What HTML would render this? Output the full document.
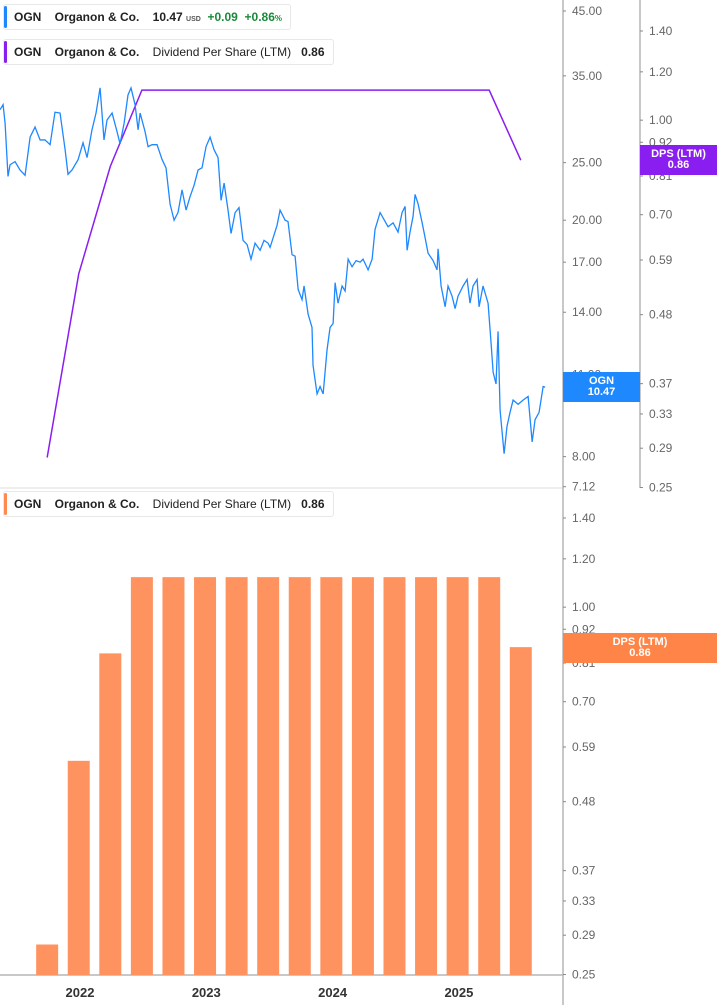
<!DOCTYPE html>
<html><head><meta charset="utf-8">
<style>
body{margin:0;background:#fff;font-family:"Liberation Sans",sans-serif;}
svg{display:block}
.lg{position:absolute;background:#fff;border:1px solid #e8e8e8;border-radius:3px;font-size:12px;font-weight:bold;color:#222;height:24px;line-height:24px;padding:0 8px 0 10px;white-space:nowrap}
.lg i{position:absolute;left:0;top:1px;bottom:1px;width:3px;border-radius:2px}
</style></head><body>
<div style="position:relative;width:717px;height:1005px">
<svg id="c" width="717" height="1005"></svg>
<div class="lg" style="left:3px;top:4px"><i style="background:#1e88ff"></i>OGN&nbsp;&nbsp;&nbsp; Organon &amp; Co.&nbsp;&nbsp;&nbsp; 10.47 <span style="font-size:7px;color:#555">USD</span>&nbsp; <span style="color:#1a8a3a">+0.09&nbsp; +0.86<span style="font-size:8px">%</span></span></div>
<div class="lg" style="left:3px;top:39px"><i style="background:#8a1ef0"></i>OGN&nbsp;&nbsp;&nbsp; Organon &amp; Co.&nbsp;&nbsp;&nbsp; <span style="font-weight:normal">Dividend Per Share (LTM)</span>&nbsp;&nbsp; 0.86</div>
<div class="lg" style="left:3px;top:491px"><i style="background:#ff8a50"></i>OGN&nbsp;&nbsp;&nbsp; Organon &amp; Co.&nbsp;&nbsp;&nbsp; <span style="font-weight:normal">Dividend Per Share (LTM)</span>&nbsp;&nbsp; 0.86</div>
</div>
<script>
const priceDates=[2021.367,2021.391,2021.407,2021.430,2021.446,2021.486,2021.525,2021.565,2021.605,2021.644,2021.684,2021.723,2021.763,2021.802,2021.842,2021.882,2021.905,2021.937,2021.985,2022.024,2022.056,2022.095,2022.127,2022.159,2022.190,2022.214,2022.254,2022.293,2022.317,2022.349,2022.380,2022.404,2022.436,2022.460,2022.476,2022.515,2022.539,2022.571,2022.610,2022.650,2022.681,2022.713,2022.745,2022.776,2022.808,2022.840,2022.871,2022.903,2022.935,2022.966,2022.998,2023.030,2023.061,2023.093,2023.117,2023.141,2023.172,2023.196,2023.228,2023.259,2023.291,2023.323,2023.354,2023.386,2023.426,2023.457,2023.489,2023.505,2023.560,2023.584,2023.624,2023.647,2023.679,2023.703,2023.727,2023.758,2023.774,2023.806,2023.837,2023.845,2023.877,2023.901,2023.925,2023.956,2023.980,2024.004,2024.020,2024.043,2024.075,2024.099,2024.123,2024.154,2024.186,2024.218,2024.241,2024.281,2024.313,2024.336,2024.376,2024.416,2024.439,2024.479,2024.518,2024.550,2024.574,2024.590,2024.613,2024.637,2024.653,2024.677,2024.709,2024.732,2024.756,2024.796,2024.827,2024.835,2024.859,2024.891,2024.914,2024.946,2024.970,2024.993,2025.033,2025.065,2025.088,2025.112,2025.144,2025.160,2025.191,2025.231,2025.255,2025.271,2025.294,2025.310,2025.326,2025.342,2025.358,2025.381,2025.405,2025.429,2025.469,2025.508,2025.548,2025.580,2025.603,2025.635,2025.667,2025.683];
const prices=[30.7,31.3,29.1,23.7,24.8,25.1,24.3,23.8,27.6,28.7,27.3,27.3,26.8,30.4,30.3,26.3,23.9,24.3,25.3,27.0,25.5,28.4,30.3,33.4,27.3,29.5,30.3,28.2,26.9,29.1,32.5,33.4,31.3,28.4,30.3,28.2,26.6,26.8,26.8,25.3,24.5,21.3,20.0,20.6,22.5,20.8,21.9,22.9,24.3,24.5,26.6,27.6,26.3,25.5,21.6,23.1,20.8,19.0,20.6,21.0,18.5,18.2,17.2,18.3,17.8,18.5,18.3,18.0,19.6,20.8,20.0,19.9,17.5,17.4,15.3,14.7,15.5,13.9,13.2,11.4,10.2,10.5,10.2,12.1,13.2,13.4,15.7,14.5,15.5,15.2,17.2,16.7,17.1,17.0,17.2,16.5,17.2,19.3,20.6,19.9,19.5,19.8,19.1,20.6,21.1,17.8,19.1,20.3,22.1,21.3,19.8,18.7,17.6,17.1,16.5,17.9,15.5,14.3,15.5,14.9,14.2,14.9,15.5,15.9,14.5,15.5,15.9,14.3,15.5,14.5,12.4,11.1,10.6,13.0,9.58,8.80,8.09,9.0,9.5,9.96,9.8,9.96,10.1,8.47,9.23,9.5,10.5,10.47];
const dpsDates=[2021.74,2021.99,2022.24,2022.49,2022.74,2022.99,2023.24,2023.49,2023.74,2023.99,2024.24,2024.49,2024.74,2024.99,2025.24,2025.49];
const dpsValues=[0.28,0.56,0.84,1.12,1.12,1.12,1.12,1.12,1.12,1.12,1.12,1.12,1.12,1.12,1.12,0.86];
const priceTicks=[45,35,25,20,17,14,11,8,7.12];
const dpsTicks=[1.40,1.20,1.00,0.92,0.81,0.70,0.59,0.48,0.37,0.33,0.29,0.25];
const yearTicks=[2022,2023,2024,2025];

const svg=document.getElementById('c');const NS='http://www.w3.org/2000/svg';
function mk(t,a,p){const e=document.createElementNS(NS,t);for(const k in a)e.setAttribute(k,a[k]);(p||svg).appendChild(e);return e;}
const xT=t=>80+(t-2022)*126.3;
const yP=v=>11+(Math.log(45)-Math.log(v))*258;
const yD=v=>31+(Math.log(1.4)-Math.log(v))*265;
const yD2=v=>518+(Math.log(1.4)-Math.log(v))*265;

// separators / axes
let e=mk('line',{x1:0,y1:488,x2:563,y2:488,stroke:'#ddd'});

e=mk('line',{x1:563,y1:0,x2:563,y2:1005,stroke:'#b5b5b5','stroke-width':1.5});

e=mk('line',{x1:640,y1:0,x2:640,y2:488,stroke:'#b5b5b5','stroke-width':1.5});

e=mk('line',{x1:0,y1:975,x2:563,y2:975,stroke:'#b5b5b5','stroke-width':1.5});


function tick(x,y,txt,name){
  let t=mk('line',{x1:x,y1:y,x2:x+3,y2:y,stroke:'#888'});
  
  let l=mk('text',{x:x+9,y:y+4,'font-size':12,fill:'#666'});l.textContent=txt;
  
}
priceTicks.forEach(v=>tick(563,yP(v),v.toFixed(2),'price-tick-label'));
dpsTicks.forEach(v=>tick(640,yD(v),v.toFixed(2),'dps-tick-label'));
dpsTicks.forEach(v=>tick(563,yD2(v),v.toFixed(2),'dps-bar-tick-label'));
yearTicks.forEach(y=>{let l=mk('text',{x:xT(y),y:997,'font-size':13,'font-weight':'bold',fill:'#333','text-anchor':'middle'});l.textContent=y;
});

// bars
dpsValues.forEach((v,i)=>{const x=xT(dpsDates[i]);const y=yD2(v);
 let b=mk('rect',{x:x-11,y:y,width:22,height:975-y,fill:'#ff935f'});
 });

// dps line
e=mk('polyline',{points:dpsValues.map((v,i)=>xT(dpsDates[i])+','+yD(v)).join(' '),fill:'none',stroke:'#8a1ef0','stroke-width':1.5});

// price line
e=mk('polyline',{points:prices.map((v,i)=>xT(priceDates[i])+','+yP(v)).join(' '),fill:'none',stroke:'#1e88ff','stroke-width':1.3});


function badge(x,y,w,h,c,l1,l2,name){
 let r=mk('rect',{x:x,y:y,width:w,height:h,fill:c});
 [l1,l2].forEach((s,i)=>{let t=mk('text',{x:x+w/2,y:y+12+i*11,'font-size':11,'font-weight':'bold',fill:'#fff','text-anchor':'middle'});t.textContent=s;
 });
}
badge(563,372,77,30,'#1e88ff','OGN',prices[prices.length-1].toFixed(2),'price-badge');
badge(640,145,77,30,'#8a1ef0','DPS (LTM)',dpsValues[dpsValues.length-1].toFixed(2),'dps-badge');
badge(563,633,154,30,'#ff8447','DPS (LTM)',dpsValues[dpsValues.length-1].toFixed(2),'dps-bar-badge');
</script>
</body></html>
